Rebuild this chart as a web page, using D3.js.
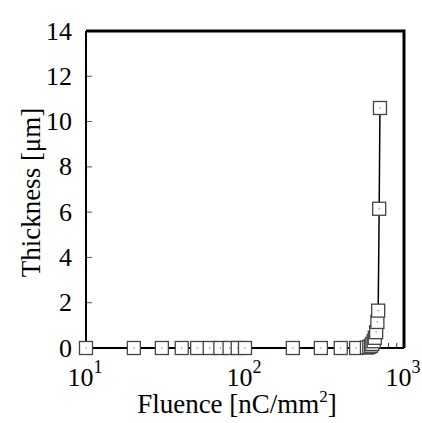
<!DOCTYPE html>
<html><head><meta charset="utf-8"><script src="https://cdn.jsdelivr.net/npm/d3@7"></script></head>
<body style="margin:0">
<svg width="422" height="423"></svg>
<script>
// fluence [nC/mm2] and thickness [um]
var fluence = [10, 20, 30, 40, 50, 60, 70, 80, 90, 100, 200, 300, 400, 500,
               585, 605, 620, 632, 645, 655, 668, 680, 688, 698, 706];
var thickness = [0, 0, 0, 0, 0, 0, 0, 0, 0, 0, 0, 0, 0, 0,
                 0.02, 0.05, 0.1, 0.18, 0.3, 0.45, 0.7, 1.15, 1.65, 6.15, 10.6];
var yTicks = [0, 2, 4, 6, 8, 10, 12, 14];
var xTicks = [10, 100, 1000];

var font = "'Liberation Serif'";

var svg = d3.select("svg"),
    margin = {top: 31, right: 18, bottom: 75, left: 86},
    width = +svg.attr("width") - margin.left - margin.right,
    height = +svg.attr("height") - margin.top - margin.bottom;

svg.style("font-family", font);

var x = d3.scaleLog().domain([10, 1000]).range([0, width]),
    y = d3.scaleLinear().domain([0, 14]).range([height, 0]);

var g = svg.append("g")
    .attr("transform", "translate(" + margin.left + "," + margin.top + ")");

// minor x ticks, pointing inward
var minor = [];
[10, 100].forEach(function(d) { for (var i = 2; i < 10; i++) minor.push(d * i); });
g.selectAll(".xminor")
    .data(minor)
    .enter().append("line")
    .attr("x1", function(d) { return x(d); })
    .attr("x2", function(d) { return x(d); })
    .attr("y1", height)
    .attr("y2", height - 5)
    .style("stroke", "#333")
    .style("stroke-width", 1);

// y ticks
g.selectAll(".ytick")
    .data(yTicks)
    .enter().append("line")
    .attr("x1", 0)
    .attr("x2", 6)
    .attr("y1", function(d) { return y(d); })
    .attr("y2", function(d) { return y(d); })
    .style("stroke", "#555")
    .style("stroke-width", 1);

g.selectAll(".ylab")
    .data(yTicks)
    .enter().append("text")
    .attr("x", -14)
    .attr("y", function(d) { return y(d); })
    .attr("dy", "0.33em")
    .attr("text-anchor", "end")
    .style("font-family", function() { return font; })
    .style("font-size", "26px")
    .text(function(d) { return d; });

// x labels 10^n
var xl = g.selectAll(".xlab")
    .data(xTicks)
    .enter().append("text")
    .attr("x", function(d) { return x(d) - 1; })
    .attr("y", height + 38)
    .attr("text-anchor", "middle")
    .style("font-family", function() { return font; })
    .style("font-size", "26px");
xl.append("tspan").text("10");
xl.append("tspan")
    .attr("dy", "-13")
    .style("font-size", "18px")
    .text(function(d) { return Math.round(Math.log10(d)); });

// frame
g.append("path")
    .attr("d", "M0,0H" + width + "V" + height)
    .style("fill", "none")
    .style("stroke", "#000")
    .style("stroke-width", 3);
g.append("path")
    .attr("d", "M0,0V" + height + "H" + width)
    .style("fill", "none")
    .style("stroke", "#000")
    .style("stroke-width", 2);

// data line
var data = fluence.map(function(d, i) { return {f: d, t: thickness[i]}; });
g.append("path")
    .datum(data)
    .attr("d", d3.line()
        .x(function(d) { return x(d.f); })
        .y(function(d) { return y(d.t); }))
    .style("fill", "none")
    .style("stroke", "#000")
    .style("stroke-width", 1.5);

var s = 13;
var pts = g.selectAll(".pt")
    .data(data)
    .enter().append("g")
    .attr("transform", function(d) { return "translate(" + x(d.f) + "," + y(d.t) + ")"; });
pts.append("rect")
    .attr("x", -s / 2)
    .attr("y", -s / 2)
    .attr("width", s)
    .attr("height", s)
    .style("fill", "#fff")
    .style("stroke", "#444")
    .style("stroke-width", 1.3);
pts.append("rect")
    .attr("x", -0.5)
    .attr("y", -0.5)
    .attr("width", 1)
    .attr("height", 1)
    .style("fill", "#444");

// axis titles
var xt = svg.append("text")
    .attr("x", margin.left + width / 2 - 8)
    .attr("y", 413)
    .attr("text-anchor", "middle")
    .style("font-family", font)
    .style("font-size", "27px");
xt.append("tspan").text("Fluence [nC/mm");
xt.append("tspan").attr("dy", -11).style("font-size", "17px").text("2");
xt.append("tspan").attr("dy", 11).text("]");

svg.append("text")
    .attr("transform", "translate(40," + (margin.top + height / 2 + 3) + ") rotate(-90)")
    .attr("text-anchor", "middle")
    .style("font-family", font)
    .style("font-size", "27px")
    .text("Thickness [\u03bcm]");
</script>
</body>
</html>
